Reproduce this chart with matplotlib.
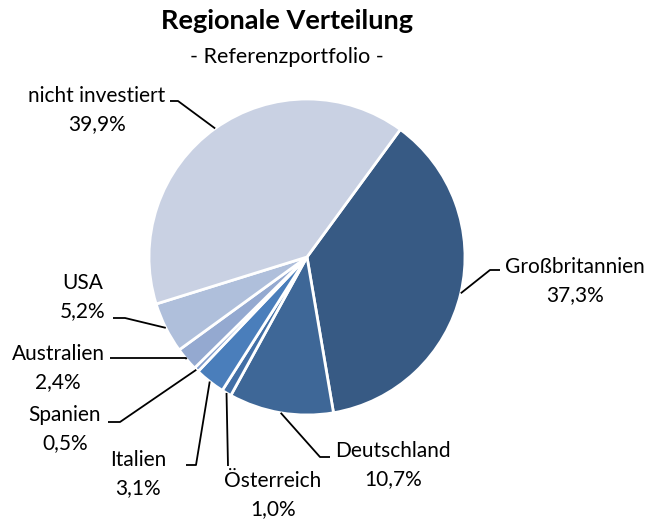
import numpy as np
import matplotlib.pyplot as plt

plt.rcParams['font.family'] = ['Lato', 'DejaVu Sans']

# data, clockwise from the upper right
regions = ['Großbritannien', 'Deutschland', 'Österreich', 'Italien',
           'Spanien', 'Australien', 'USA', 'nicht investiert']
shares = [37.3, 10.7, 1.0, 3.1, 0.5, 2.4, 5.2, 39.9]
colors = ['#375a84', '#3e6797', '#426fa6', '#4a7ebb',
          '#7f9bcb', '#94a9d0', '#afbfdb', '#c9d1e3']

# label layout in pixels (text centre, elbow point, end of leader)
label_pos = [(575, 281), (393, 465), (273, 495), (138, 474),
             (65, 429), (58, 368), (83, 297), (97, 110)]
elbow = [(490, 270), (320, 457), (228, 466), (196, 465),
         (120, 422), (186, 358), (125, 318), (178, 101)]
line_end = [(500, 270), (330, 457), (228, 466), (186, 465),
            (108, 422), (110, 358), (113, 318), (170, 101)]

W, H = 648, 519
cx, cy, r = 307, 257, 158
start = 53.8

fig = plt.figure(figsize=(W / 100, H / 100), dpi=100)
ax = fig.add_axes([0, 0, 1, 1])

wedges, _ = ax.pie(shares, colors=colors, startangle=start, counterclock=False,
                   center=(cx, H - cy), radius=r,
                   wedgeprops=dict(edgecolor='white', linewidth=2))
ax.set_xlim(0, W)
ax.set_ylim(0, H)
ax.set_aspect('equal')
ax.axis('off')

for w, name, val, (tx, ty), (ex, ey), (lx, ly) in zip(wedges, regions, shares,
                                                       label_pos, elbow, line_end):
    mid = np.deg2rad((w.theta1 + w.theta2) / 2)
    px = cx + r * np.cos(mid)
    py = H - cy + r * np.sin(mid)
    ax.plot([px, ex, lx], [py, H - ey, H - ly], color='black', lw=1.3,
            solid_capstyle='butt')
    txt = name + '\n' + ('%.1f%%' % val).replace('.', ',')
    ax.text(tx, H - ty, txt, ha='center', va='center', fontsize=15,
            linespacing=1.45, color='black')

ax.text(287, H - 21, 'Regionale Verteilung', ha='center', va='center',
        fontsize=19.5, fontweight='bold')
ax.text(287, H - 57, '- Referenzportfolio -', ha='center', va='center',
        fontsize=15.5)

fig.savefig('out.png', dpi=100)
